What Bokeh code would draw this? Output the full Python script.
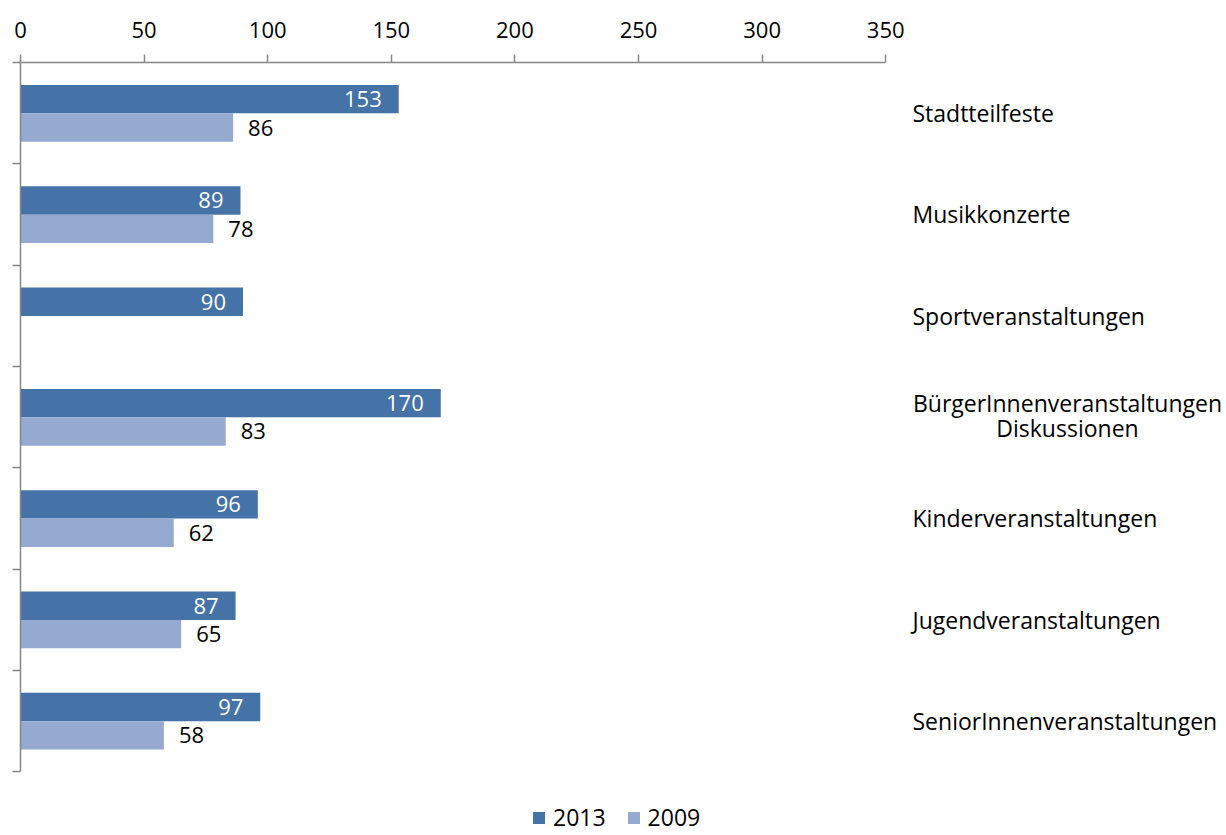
import math
from bokeh.plotting import figure
from bokeh.models import Range1d, FixedTicker, Legend, LegendItem
from bokeh.embed import file_html
from bokeh.resources import INLINE
from bokeh.core.properties import value

# ---- data ----
categories = [
    "Stadtteilfeste",
    "Musikkonzerte",
    "Sportveranstaltungen",
    "BürgerInnenveranstaltungen\nDiskussionen",
    "Kinderveranstaltungen",
    "Jugendveranstaltungen",
    "SeniorInnenveranstaltungen",
]
values_2013 = [153, 89, 90, 170, 96, 87, 97]
values_2009 = [86, 78, None, 83, 62, 65, 58]
series_names = ["2013", "2009"]
x_ticks = [0, 50, 100, 150, 200, 250, 300, 350]

# ---- style ----
FONT = "Open Sans"
FS = "22px"      # numbers
FS_CAT = "23px"  # category labels
C13 = "#4572A7"
C09 = "#95A9D1"
AX = "#878787"

W, H = 1226, 835
LEFT, TOP = 20, 62
PX_X = 2.472    # pixels per value unit
PX_Y = 101.31   # pixels per category band

p = figure(width=W, height=H, output_backend="svg", toolbar_location=None,
           x_range=Range1d(0, (W - LEFT) / PX_X),
           y_range=Range1d((H - TOP) / PX_Y, 0),
           x_axis_location="above",
           min_border_left=LEFT, min_border_top=TOP,
           min_border_right=0, min_border_bottom=0)
p.outline_line_color = None
p.grid.visible = False
p.background_fill_color = "white"
p.border_fill_color = "white"

xa = p.xaxis[0]
xa.ticker = FixedTicker(ticks=x_ticks)
xa.bounds = (0, 350)
xa.major_tick_out = 8
xa.major_tick_in = 0
xa.minor_tick_out = 0
xa.minor_tick_in = 0
xa.axis_line_color = AX
xa.axis_line_width = 1.5
xa.major_tick_line_color = AX
xa.major_tick_line_width = 1.5
xa.major_label_text_font = FONT
xa.major_label_text_font_size = FS
xa.major_label_text_color = "black"
xa.major_label_standoff = 17

n = len(categories)
ya = p.yaxis[0]
ya.ticker = FixedTicker(ticks=list(range(n + 1)))
ya.bounds = (0, n)
ya.major_tick_out = 8
ya.major_tick_in = 0
ya.minor_tick_out = 0
ya.minor_tick_in = 0
ya.axis_line_color = AX
ya.axis_line_width = 1.5
ya.major_tick_line_color = AX
ya.major_tick_line_width = 1.5
ya.major_label_overrides = {i: "" for i in range(n + 1)}
ya.major_label_standoff = 0

BAR_H = 0.28
y13 = [i + 0.362 for i in range(n)]
y09 = [i + 0.642 for i in range(n)]
v09 = [float("nan") if v is None else v for v in values_2009]

r13 = p.hbar(y=y13, left=0, right=values_2013, height=BAR_H,
             fill_color=C13, line_color=None)
r09 = p.hbar(y=y09, left=0, right=v09, height=BAR_H,
             fill_color=C09, line_color=None)

# value labels
p.text(x=values_2013, y=y13, text=[str(v) for v in values_2013],
       text_align="right", text_baseline="middle", x_offset=-17,
       text_color="white", text_font=value(FONT), text_font_size=FS)
lab09 = [(v, y) for v, y in zip(values_2009, y09) if v is not None]
p.text(x=[v for v, _ in lab09], y=[y for _, y in lab09],
       text=[str(v) for v, _ in lab09],
       text_align="left", text_baseline="middle", x_offset=15,
       text_color="black", text_font=value(FONT), text_font_size=FS)

# category labels on the right
lx = (912 - LEFT) / PX_X
cx = (1067 - LEFT) / PX_X
sx, sy, st = [], [], []
mx, my, mt, mo = [], [], [], []
for i, c in enumerate(categories):
    lines = c.split("\n")
    if len(lines) == 1:
        sx.append(lx); sy.append(i + 0.5); st.append(c)
    else:
        offs = [-14, 11]
        for ln, o in zip(lines, offs):
            mx.append(cx); my.append(i + 0.5); mt.append(ln); mo.append(o)
p.text(x=sx, y=sy, text=st, text_align="left", text_baseline="middle",
       text_color="black", text_font=value(FONT), text_font_size=FS_CAT)
p.text(x=mx, y=my, text=mt, y_offset=mo, text_align="center", text_baseline="middle",
       text_color="black", text_font=value(FONT), text_font_size=FS_CAT)

legend = Legend(items=[LegendItem(label=series_names[0], renderers=[r13]),
                       LegendItem(label=series_names[1], renderers=[r09])],
                orientation="horizontal", location=(511, 2),
                glyph_width=15, glyph_height=15, label_standoff=7, spacing=20,
                padding=0, margin=0, border_line_color=None,
                background_fill_alpha=0,
                label_text_font=FONT, label_text_font_size=FS_CAT,
                label_text_color="black")
p.add_layout(legend)

open("out.html", "w").write(file_html(p, INLINE))
